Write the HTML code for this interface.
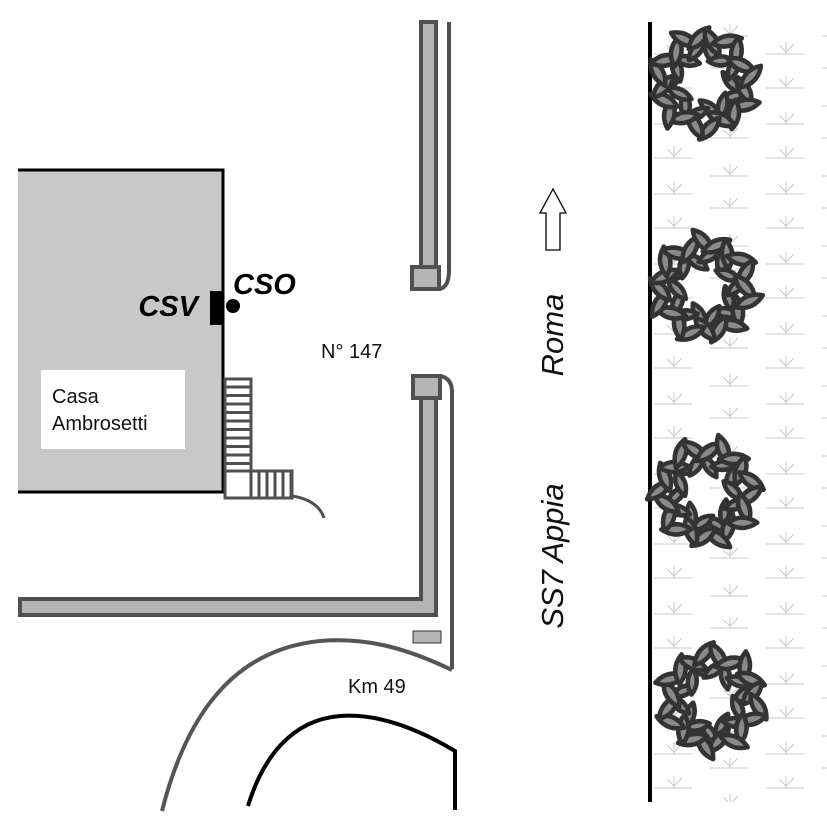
<!DOCTYPE html>
<html><head><meta charset="utf-8"><style>html,body{margin:0;padding:0;background:#fff}svg{display:block}</style></head>
<body>
<svg id="s" width="827" height="827" viewBox="0 0 827 827" xmlns="http://www.w3.org/2000/svg" font-family="Liberation Sans, sans-serif">
<defs>
<pattern id="grass" x="652" y="0" width="112" height="70" patternUnits="userSpaceOnUse">
<g stroke="#c8c8c8" stroke-width="1" fill="none">
<line x1="2" y1="18" x2="40" y2="18"/><path d="M22 18 V6 M22 16 L15 9 M22 16 L30 8"/>
<line x1="58" y1="36" x2="96" y2="36"/><path d="M78 36 V24 M78 34 L71 27 M78 34 L86 26"/>
<line x1="2" y1="54" x2="40" y2="54"/><path d="M22 54 V42 M22 52 L15 45 M22 52 L30 44"/>
<line x1="58" y1="68" x2="96" y2="68"/><path d="M78 68 V58 M78 66 L71 60 M78 66 L86 58"/>
</g>
</pattern>
</defs>
<rect x="652" y="22" width="175" height="780" fill="url(#grass)"/>
<line x1="650" y1="22" x2="650" y2="802" stroke="#000" stroke-width="4"/>
<g id="trees"></g>

<rect x="18" y="170" width="205" height="322" fill="#c8c8c8"/>
<path d="M18 170 H223 V492 H18" fill="none" stroke="#000" stroke-width="3"/>
<rect x="41" y="370" width="144" height="79" fill="#fff"/>
<text x="52" y="403" font-size="20" fill="#111">Casa</text>
<text x="52" y="430" font-size="20" fill="#111">Ambrosetti</text>
<rect x="210" y="291" width="12" height="34" fill="#000"/>
<circle cx="233" cy="306" r="7" fill="#000"/>
<text x="198" y="316" font-size="29" font-weight="bold" font-style="italic" text-anchor="end">CSV</text>
<text x="233" y="294" font-size="29" font-weight="bold" font-style="italic">CSO</text>

<g stroke="#505050" stroke-width="3" fill="#fff">
<rect x="225" y="379" width="26" height="92"/>
<rect x="225" y="471" width="26" height="27"/>
<rect x="251" y="471" width="41" height="27"/>
</g>
<g id="rungs" stroke="#505050" stroke-width="3"></g>
<path d="M292 496 Q318 500 324 518" fill="none" stroke="#505050" stroke-width="3"/>

<g stroke="#505050" stroke-width="4" fill="#b4b4b4">
<rect x="421" y="22" width="15" height="246"/>
<rect x="412" y="267" width="27" height="22"/>
<path d="M421 398 H436 V615 H20 V599 H421 Z"/>
<rect x="413" y="376" width="27" height="22"/>
</g>
<path d="M449 22 V270 Q449 288 439 289" fill="none" stroke="#505050" stroke-width="4"/>
<path d="M440 376 Q452 378 452 392 V669" fill="none" stroke="#505050" stroke-width="4"/>
<rect x="413" y="631" width="28" height="12" fill="#b4b4b4" stroke="#333" stroke-width="1"/>
<path d="M162 811 C185 720 230 650 320 641 C370 637 410 650 452 670" fill="none" stroke="#555" stroke-width="4"/>
<path d="M248 806 C262 760 290 720 340 716 C380 713 420 730 455 751 V810" fill="none" stroke="#000" stroke-width="4"/>

<text x="321" y="358" font-size="20" fill="#111">N° 147</text>
<text x="348" y="693" font-size="20" fill="#111">Km 49</text>

<path d="M546 250 V213 H540 L553 189 L566 213 H560 V250 Z" fill="#fff" stroke="#000" stroke-width="1.3"/>
<text transform="translate(563,335) rotate(-90)" font-size="31" font-style="italic" text-anchor="middle" fill="#111">Roma</text>
<text transform="translate(563,556) rotate(-90)" font-size="31" font-style="italic" text-anchor="middle" fill="#111">SS7 Appia</text>
</svg>
<script>
var NS="http://www.w3.org/2000/svg";
var r=document.getElementById('rungs');
for(var y=387;y<471;y+=8.5){var l=document.createElementNS(NS,'line');l.setAttribute('x1',225);l.setAttribute('x2',251);l.setAttribute('y1',y);l.setAttribute('y2',y);r.appendChild(l);}
for(var x=259;x<292;x+=8){var l=document.createElementNS(NS,'line');l.setAttribute('x1',x);l.setAttribute('x2',x);l.setAttribute('y1',471);l.setAttribute('y2',498);r.appendChild(l);}
var t=document.getElementById('trees');
function leaf(x,y,ang,s){
 var p=document.createElementNS(NS,'path');
 p.setAttribute('d','M'+(-13*s)+' 0 Q0 '+(-9*s)+' '+(13*s)+' 0 Q0 '+(9*s)+' '+(-13*s)+' 0 Z');
 p.setAttribute('transform','translate('+x+' '+y+') rotate('+ang+')');
 p.setAttribute('fill','#8a8a8a');p.setAttribute('stroke','#333');p.setAttribute('stroke-width','4.5');p.setAttribute('stroke-linejoin','round');
 t.appendChild(p);
}
[[704,82],[704,288],[706,493],[712,700]].forEach(function(c,ti){
 var rings=[[27,14,1],[41,20,1.15]];
 rings.forEach(function(rg,ri){
  for(var i=0;i<rg[1];i++){
   var a=i/rg[1]*Math.PI*2+ti*0.4+ri*0.2;
   var rad=rg[0]+((i*5)%3)*3;
   var x=c[0]+Math.cos(a)*rad,y=c[1]+Math.sin(a)*rad;
   leaf(x,y,a*180/Math.PI+(i%2?50:-40)+90,rg[2]);
  }
 });
});
</script>
</body></html>
